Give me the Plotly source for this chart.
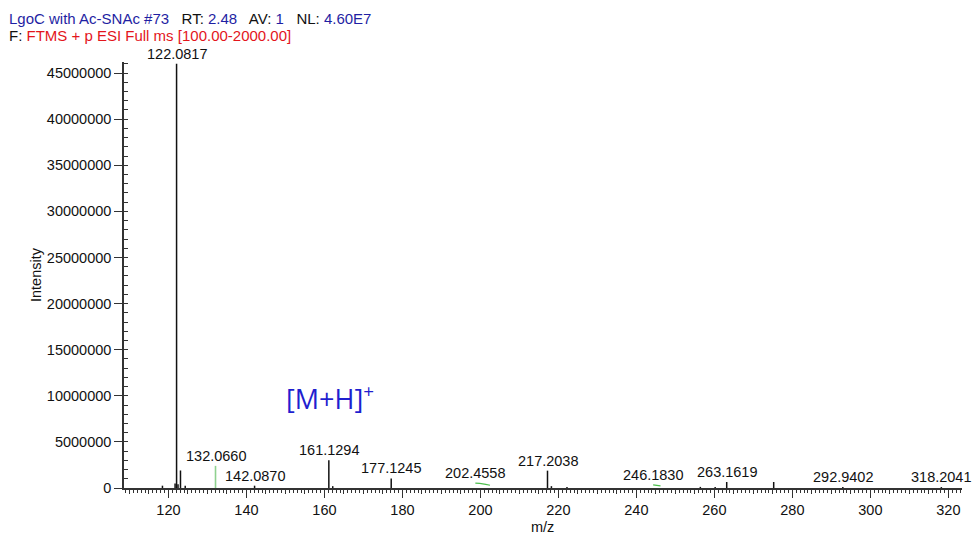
import plotly.graph_objects as go

# ---- spectrum data (centroid sticks) ----
stick_mz = [118.46, 121.70, 122.0817, 122.45, 123.0850, 124.30, 142.0870,
            161.1294, 162.13, 177.1245, 217.2038, 218.21, 222.20, 256.40,
            260.20, 263.1619, 275.21, 292.9402, 318.2041]
stick_int = [0.25e6, 0.5e6, 4.60e7, 0.4e6, 1.9e6, 0.25e6, 0.25e6,
             3.0e6, 0.2e6, 1.04e6, 1.88e6, 0.2e6, 0.12e6, 0.12e6,
             0.12e6, 0.65e6, 0.65e6, 0.1e6, 0.1e6]

# peaks drawn in green
green_mz = [132.0660]
green_int = [2.4e6]

# short green profile traces near the baseline
profile_a_mz = [198.7, 200.6, 202.4558]
profile_a_int = [0.52e6, 0.45e6, 0.30e6]
profile_b_mz = [244.3, 246.1830]
profile_b_int = [0.34e6, 0.24e6]

# labelled peaks
label_mz = [122.0817, 132.0660, 142.0870, 161.1294, 177.1245, 202.4558,
            217.2038, 246.1830, 263.1619, 292.9402, 318.2041]
label_text = ["122.0817", "132.0660", "142.0870", "161.1294", "177.1245",
              "202.4558", "217.2038", "246.1830", "263.1619", "292.9402",
              "318.2041"]

x_range = [108.6, 323.5]
y_range = [0, 4.62e7]

# ---- lookup of the mark height for each label ----
height_of = dict(zip(stick_mz, stick_int))
height_of.update(zip(green_mz, green_int))
height_of[profile_a_mz[-1]] = max(profile_a_int)
height_of[profile_b_mz[-1]] = max(profile_b_int)


def sticks(xs, ys):
    px, py = [], []
    for m, h in zip(xs, ys):
        px += [m, m, None]
        py += [0, h, None]
    return px, py


FONT = "Liberation Sans, Arial, sans-serif"
BLUE = "#1f1fa3"
RED = "#e3151b"

fig = go.Figure()

sx, sy = sticks(stick_mz, stick_int)
fig.add_trace(go.Scatter(x=sx, y=sy, mode="lines",
                         line=dict(color="#111111", width=1.5),
                         hoverinfo="skip", showlegend=False))
gx, gy = sticks(green_mz, green_int)
fig.add_trace(go.Scatter(x=gx, y=gy, mode="lines",
                         line=dict(color="#8fd18f", width=1.6),
                         hoverinfo="skip", showlegend=False))
for px_, py_ in ((profile_a_mz, profile_a_int), (profile_b_mz, profile_b_int)):
    fig.add_trace(go.Scatter(x=px_, y=py_, mode="lines",
                             line=dict(color="#4cbf4c", width=1.2, shape="spline"),
                             hoverinfo="skip", showlegend=False))

# invisible trace that carries the overlay tick axes
fig.add_trace(go.Scatter(x=[x_range[0]], y=[0], xaxis="x2", yaxis="y2",
                         mode="markers", marker=dict(opacity=0),
                         hoverinfo="skip", showlegend=False))

label_xshift = {202.4558: -15, 246.1830: -8}
for m, t in zip(label_mz, label_text):
    fig.add_annotation(x=m, y=height_of[m], text=t, showarrow=False,
                       xanchor="center", yanchor="bottom", yshift=0,
                       xshift=label_xshift.get(m, 0),
                       font=dict(family=FONT, size=14.5, color="#111111"))

fig.add_annotation(x=161.3, y=0.985e7, text="[M+H]<sup>+</sup>", showarrow=False,
                   xanchor="center", yanchor="middle",
                   font=dict(family="Open Sans, sans-serif", size=27, color="#1f1fcf"))

# page geometry
L, R, T, B = 124, 12, 62, 46
W, H = 974, 534
pw, ph = W - L - R, H - T - B


def px_x(p):
    return (p - L) / pw


def px_y(p):
    return 1 + (T - p) / ph


def c(txt, col):
    return f'<span style="color:{col}">{txt}</span>'


# header lines
line1 = (c("LgoC with Ac-SNAc #73", BLUE) + "   RT: " + c("2.48", BLUE)
         + "   AV: " + c("1", BLUE) + "   NL: " + c("4.60E7", BLUE))
line2 = "F: " + c("FTMS + p ESI Full ms [100.00-2000.00]", RED)
fig.add_annotation(xref="paper", yref="paper", x=px_x(7), y=px_y(18), text=line1,
                   showarrow=False, xanchor="left", yanchor="middle",
                   font=dict(family=FONT, size=15, color="#111111"))
fig.add_annotation(xref="paper", yref="paper", x=px_x(7), y=px_y(35), text=line2,
                   showarrow=False, xanchor="left", yanchor="middle",
                   font=dict(family=FONT, size=15, color="#111111"))

# axis titles
fig.add_annotation(xref="paper", yref="paper", x=px_x(542), y=px_y(527), text="m/z",
                   showarrow=False, xanchor="center", yanchor="middle",
                   font=dict(family=FONT, size=14.5, color="#111111"))
fig.add_annotation(xref="paper", yref="paper", x=px_x(36), y=px_y(275), text="Intensity",
                   showarrow=False, xanchor="center", yanchor="middle", textangle=-90,
                   font=dict(family=FONT, size=14.5, color="#111111"))

axis_col = "#333333"
fig.update_layout(
    width=W, height=H,
    margin=dict(l=L, r=R, t=T, b=B, pad=0),
    plot_bgcolor="white", paper_bgcolor="white",
    font=dict(family=FONT, size=14.5, color="#111111"),
    xaxis=dict(range=x_range, showgrid=False, zeroline=False, automargin=False,
               showline=True, linecolor=axis_col, linewidth=1.5,
               ticks="outside", tick0=0, dtick=20, ticklen=8, tickwidth=1.3,
               tickcolor=axis_col,
               minor=dict(dtick=1, tick0=0, ticks="outside", ticklen=3,
                          tickwidth=1, tickcolor=axis_col)),
    xaxis2=dict(range=x_range, overlaying="x", anchor="y", side="bottom",
                automargin=False,
                showgrid=False, zeroline=False, showline=False,
                showticklabels=False, ticks="outside", tick0=0, dtick=5,
                ticklen=5, tickwidth=1, tickcolor=axis_col),
    yaxis=dict(range=y_range, showgrid=False, zeroline=False, automargin=False,
               showline=True, linecolor=axis_col, linewidth=1.5,
               ticks="outside", tick0=0, dtick=5e6, ticklen=8, tickwidth=1.3,
               tickcolor=axis_col, tickformat="d",
               minor=dict(dtick=1e6, tick0=0, ticks="inside", ticklen=4,
                          tickwidth=1, tickcolor=axis_col)),
    yaxis2=dict(range=y_range, overlaying="y", anchor="x", side="left",
                automargin=False,
                showgrid=False, zeroline=False, showline=False,
                showticklabels=False, ticks="inside", tick0=0, dtick=5e6,
                ticklen=4, tickwidth=1, tickcolor=axis_col),
)

fig.write_html("out.html")
